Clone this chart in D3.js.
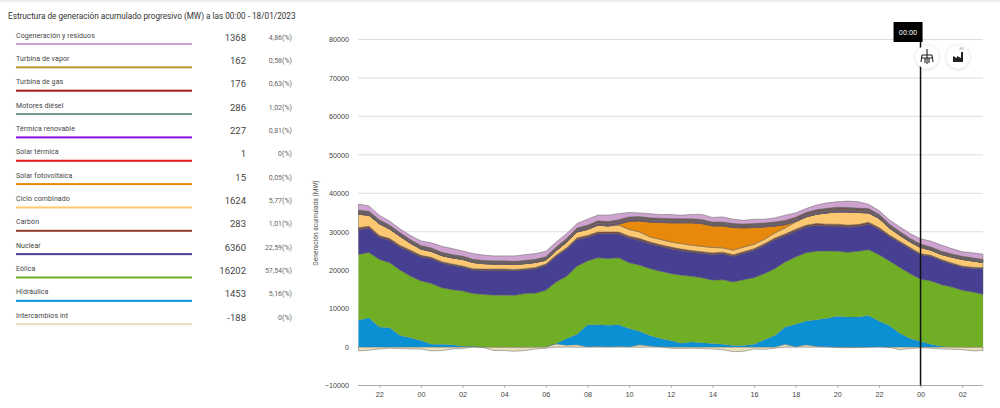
<!DOCTYPE html>
<html>
  <head>
    <meta charset="utf-8">
    <title>Estructura de generación</title>
    <style>
      html, body { margin: 0; padding: 0; background: #fff; }
      svg { display: block; font-family: Roboto, sans-serif; }
      .axis text { font-size: 7.2px; fill: #444; }
      .axis .domain { display: none; }
      .grid line { stroke: #dedede; stroke-width: 1; }
    </style>
  </head>
  <body>
    <div id="chart"></div>

    <script src="https://d3js.org/d3.v7.min.js"></script>
    <script>
      // legend, top to bottom
      const names = ["Cogeneración y residuos", "Turbina de vapor", "Turbina de gas", "Motores diésel",
        "Térmica renovable", "Solar térmica", "Solar fotovoltaica", "Ciclo combinado", "Carbón",
        "Nuclear", "Eólica", "Hidráulica", "Intercambios int"];
      const mw = ["1368", "162", "176", "286", "227", "1", "15", "1624", "283", "6360", "16202", "1453", "-188"];
      const pct = ["4,86(%)", "0,58(%)", "0,63(%)", "1,02(%)", "0,81(%)", "0(%)", "0,05(%)", "5,77(%)", "1,01(%)",
        "22,59(%)", "57,54(%)", "5,16(%)", "0(%)"];
      const colors = ["#cfa3d0", "#b8962e", "#a81c1c", "#6f9a8d", "#8a12e0", "#e61a1a", "#e8890c", "#fdc872",
        "#8f3b2a", "#473f92", "#6fae25", "#0b90d3", "#e9deba"];
      // these bands are so thin that only their outline shows
      const thin = ["Solar térmica", "Térmica renovable", "Motores diésel", "Turbina de gas", "Turbina de vapor", "Carbón"];

      // half-hourly values in MW from 21:00 on 16/01 to 03:00 on 18/01
      const exchange = [-1000,-800,-500,-300,-400,-500,-500,-1000,-900,-500,
        -400,100,-100,-900,-900,-1100,-900,-500,-300,800,
        500,600,100,200,100,200,100,600,300,100,
        -300,-400,-300,-400,-500,-700,-1200,-1100,-500,-600,
        -300,700,100,600,200,100,-100,-200,-100,0,
        100,-100,-700,-400,-188,-300,-500,-600,-700,-1000,-900];
      const hydro = [7000,7600,5200,5000,3000,2400,1700,700,700,600,
        200,100,0,0,0,0,0,0,100,100,
        1700,2700,5700,5600,5550,5600,4700,3500,2700,2100,
        1700,1000,1300,1100,900,700,430,430,700,1900,
        3000,4500,5800,6200,6900,7400,8000,7800,7800,8200,
        6700,5600,3600,2200,1453,700,200,0,0,0,0];
      const wind = [17100,16970,17600,16900,17000,16000,15500,15800,14700,14300,
        14400,13700,13700,13500,13500,13450,13900,14000,14650,16000,
        16200,17700,16600,17400,17350,17400,17100,17200,17400,17500,
        17400,17700,17100,16900,16500,16800,16470,17070,17300,17200,
        17400,16900,17500,17700,17800,17500,16900,16850,17100,17100,
        17200,16800,17100,16900,16202,16500,16000,15600,14750,14300,13700];
      const nuclear = [6500,6430,5800,5900,6000,6400,6300,6500,6500,6400,
        6200,6200,6300,6500,6500,6450,6200,6400,6550,6700,
        7100,7000,6200,6300,6500,6300,6500,6500,6500,6500,
        6500,6400,6300,6400,6700,6800,6700,6900,7200,7400,
        7550,6900,6800,6750,6800,6500,6600,6600,6500,6700,
        6700,6400,6500,6500,6360,6400,6300,6000,6050,6200,6700];
      const coal = [450,450,430,420,400,380,350,330,320,300,
        300,290,290,280,280,280,280,290,300,320,
        350,400,430,450,450,450,450,440,430,420,
        410,400,400,400,390,390,380,380,380,390,
        400,420,440,450,460,470,470,470,460,450,
        420,380,340,310,283,280,270,270,260,260,260];
      const combined = [3500,2850,3070,2480,2400,1820,1650,1570,1580,1600,
        1700,1610,1410,1320,1320,1320,1320,1310,1000,1180,
        1450,1550,1570,1750,1550,1750,1750,1710,1320,1380,
        1340,1400,1400,1400,1410,1110,1220,1220,1170,1110,
        1350,1580,1910,2150,2390,2930,3180,3430,3140,2450,
        2380,1820,1560,1440,1624,1320,1330,1530,1740,1640,1340];
      const photovoltaic = [15,15,15,15,15,15,15,15,15,15,
        15,15,15,15,15,15,15,15,15,15,
        15,15,15,15,15,300,2100,2850,3850,4400,
        4950,5400,5800,5900,5600,5700,5900,5000,4350,3250,
        1800,850,100,15,15,15,15,15,15,15,
        15,15,15,15,15,15,15,15,15,15,15];
      const solarThermal = [1,1,1,1,1,1,1,1,1,1,
        1,1,1,1,1,1,1,1,1,1,
        1,1,5,20,40,60,80,100,110,120,
        120,120,120,110,110,100,90,80,70,60,
        50,40,30,20,15,10,8,6,5,4,
        3,2,2,1,1,1,1,1,1,1,1];
      const renewable = [300,300,290,280,270,260,250,240,240,230,
        230,220,220,220,220,220,220,220,230,240,
        260,280,300,310,320,320,320,310,300,300,
        300,290,290,280,270,270,270,270,270,280,
        280,290,300,310,320,320,320,320,310,310,
        300,280,260,250,227,220,220,210,210,200,200];
      const diesel = [290,290,290,280,280,290,290,290,280,280,
        280,280,270,270,270,270,270,270,280,280,
        290,300,300,310,310,310,300,300,300,300,
        300,300,290,290,290,290,290,290,290,300,
        300,300,310,310,320,320,320,320,310,310,
        310,300,300,290,286,280,280,280,270,270,270];
      const gas = [260,260,240,220,210,200,190,180,170,170,
        170,160,160,160,160,160,160,170,180,200,
        240,280,300,310,300,290,280,260,240,230,
        220,210,210,200,200,200,200,200,210,230,
        260,290,320,340,350,360,360,350,330,300,
        270,240,210,190,176,170,170,160,160,160,160];
      const steam = [170,170,170,170,165,165,160,160,160,160,
        160,160,160,160,160,160,160,160,160,160,
        160,160,165,165,165,165,170,170,170,170,
        170,170,170,170,170,170,170,170,170,170,
        170,170,170,170,170,170,170,170,170,170,
        170,165,165,165,162,160,160,160,160,160,160];
      const cogen = [1600,1380,1210,1050,970,1080,1210,1330,1550,1560,
        1360,1480,1390,1290,1290,1390,1490,1480,1450,1320,
        1250,1130,1580,1490,1660,1560,1150,960,1080,950,
        1040,910,1120,1350,1160,1320,1130,950,1140,960,
        1040,1360,1120,1000,1180,1420,1470,1630,1680,1160,
        950,1110,1210,1250,1368,1500,1570,1390,1150,1310,1360];

      // bottom of the stack first, names match the legend
      const series = [
        ["Intercambios int", exchange], ["Hidráulica", hydro], ["Eólica", wind], ["Nuclear", nuclear],
        ["Carbón", coal], ["Ciclo combinado", combined], ["Solar fotovoltaica", photovoltaic],
        ["Solar térmica", solarThermal], ["Térmica renovable", renewable], ["Motores diésel", diesel],
        ["Turbina de gas", gas], ["Turbina de vapor", steam], ["Cogeneración y residuos", cogen]
      ];

      const yTicks = [-10000, 0, 10000, 20000, 30000, 40000, 50000, 60000, 70000, 80000];
      const start = new Date(Date.UTC(2023, 0, 16, 21));
      const cursor = new Date(Date.UTC(2023, 0, 18, 0));

      const rows = exchange.map((_, i) => {
        const row = { time: d3.utcMinute.offset(start, i * 30) };
        series.forEach(([key, values]) => { row[key] = values[i]; });
        return row;
      });

      const svg = d3.select("#chart").append("svg")
        .attr("width", 1000)
        .attr("height", 408);

      svg.append("rect").attr("width", 1000).attr("height", 2).attr("fill", "#eee");

      // left panel
      svg.append("text")
        .attr("x", 8).attr("y", 19)
        .attr("font-size", 8.2).attr("fill", "#333")
        .text("Estructura de generación acumulado progresivo (MW) a las 00:00 - 18/01/2023");

      const rowY = d3.scaleLinear().domain([0, 12]).range([0, 280.2]);
      const legend = svg.selectAll(".legend").data(names).enter().append("g")
        .attr("class", "legend")
        .attr("transform", (d, i) => `translate(0,${rowY(i)})`);
      legend.append("text")
        .attr("x", 16).attr("y", 37.5)
        .attr("font-size", 7).attr("letter-spacing", 0.1).attr("fill", "#444")
        .text(d => d);
      legend.append("rect")
        .attr("x", 16).attr("y", 43).attr("width", 176).attr("height", 2)
        .attr("fill", (d, i) => colors[i]);
      legend.append("text")
        .attr("x", 246).attr("y", 40.5)
        .attr("text-anchor", "end").attr("font-size", 9.5).attr("fill", "#444")
        .text((d, i) => mw[i]);
      legend.append("text")
        .attr("x", 292).attr("y", 39.5)
        .attr("text-anchor", "end").attr("font-size", 7).attr("fill", "#666")
        .text((d, i) => pct[i]);

      // chart
      const x = d3.scaleUtc()
        .domain([start, rows[rows.length - 1].time])
        .range([358.5, 983]);
      const y = d3.scaleLinear()
        .domain([-10000, 80000])
        .range([385.5, 39.5]);

      svg.append("g").attr("class", "grid")
        .selectAll("line").data(yTicks.filter(d => d !== -10000)).enter().append("line")
        .attr("x1", 358).attr("x2", 983)
        .attr("y1", d => y(d)).attr("y2", d => y(d));

      const stack = d3.stack()
        .keys(series.map(s => s[0]))
        .order(d3.stackOrderNone)
        .offset(d3.stackOffsetDiverging);

      const area = d3.area()
        .x(d => x(d.data.time))
        .y0(d => y(d[0]))
        .y1(d => y(d[1]));

      svg.append("g").selectAll("path").data(stack(rows)).enter().append("path")
        .attr("d", area)
        .attr("fill", d => colors[names.indexOf(d.key)])
        .attr("stroke", d => thin.includes(d.key) ? "#686060" : "#5d5d5d")
        .attr("stroke-opacity", d => (d.key === "Eólica" || d.key === "Hidráulica") ? 0.25 : (thin.includes(d.key) ? 1 : 0.8))
        .attr("stroke-width", d => thin.includes(d.key) ? 1 : 0.6);

      const yAxis = d3.axisLeft(y).tickValues(yTicks).tickSize(0).tickPadding(9).tickFormat(d3.format("d"));
      svg.append("g").attr("class", "axis")
        .attr("transform", "translate(358,0)")
        .call(yAxis);

      const xAxis = d3.axisBottom(x).ticks(d3.utcHour.every(2)).tickSize(2).tickPadding(4)
        .tickFormat(d3.utcFormat("%H"));
      const xg = svg.append("g").attr("class", "axis")
        .attr("transform", `translate(0,${y(-10000)})`)
        .call(xAxis);
      xg.selectAll("line").attr("stroke", "#999");

      svg.append("line")
        .attr("x1", 358).attr("x2", 983)
        .attr("y1", y(-10000)).attr("y2", y(-10000))
        .attr("stroke", "#aaa").attr("stroke-width", 1);

      svg.append("text")
        .attr("transform", `translate(318,223) rotate(-90)`)
        .attr("text-anchor", "middle")
        .attr("font-size", 6.6).attr("fill", "#555")
        .text("Generación acumulada (MW)");

      // cursor at 00:00 with its label and the two round buttons
      svg.append("line")
        .attr("x1", x(cursor)).attr("x2", x(cursor))
        .attr("y1", 40).attr("y2", y(-10000))
        .attr("stroke", "#111").attr("stroke-width", 1.5);
      svg.append("rect")
        .attr("x", x(cursor) - 27).attr("y", 22).attr("width", 29).attr("height", 20)
        .attr("fill", "#000");
      svg.append("text")
        .attr("x", x(cursor) - 12.5).attr("y", 34.5)
        .attr("text-anchor", "middle").attr("font-size", 7.4).attr("fill", "#eee")
        .text("00:00");

      const defs = svg.append("defs");
      const shadow = defs.append("filter").attr("id", "soft")
        .attr("x", "-40%").attr("y", "-40%").attr("width", "180%").attr("height", "180%");
      shadow.append("feDropShadow")
        .attr("dx", 0).attr("dy", 0.5).attr("stdDeviation", 1.5)
        .attr("flood-color", "#000").attr("flood-opacity", 0.22);

      [927, 958].forEach(cx => {
        svg.append("circle")
          .attr("cx", cx).attr("cy", 57).attr("r", 11.5)
          .attr("fill", "#fff").attr("filter", "url(#soft)");
      });

      svg.append("path")
        .attr("d", "M927 49V64M922 55H932M921 58H933M922 55L921 62M932 55L933 62M925 58V63M929 58V63")
        .attr("fill", "none").attr("stroke", "#222").attr("stroke-width", 1.1);
      svg.append("path")
        .attr("d", "M953 62V56L957 58V56L961 58V52H963V62Z")
        .attr("fill", "#222");
      svg.append("path")
        .attr("d", "M960 50a1.6 1.6 0 1 1 3 0")
        .attr("fill", "none").attr("stroke", "#777").attr("stroke-width", 0.7);
    </script>
  </body>
</html>
